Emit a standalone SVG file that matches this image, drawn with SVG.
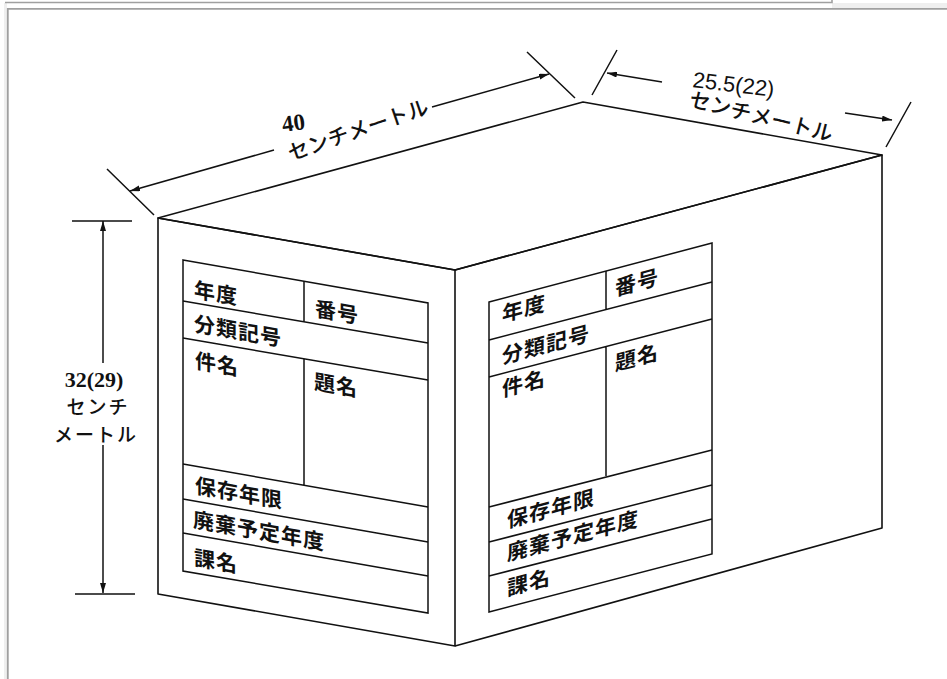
<svg xmlns="http://www.w3.org/2000/svg" width="947" height="679" viewBox="0 0 947 679">
<style>
.ln{fill:none;stroke:#111;stroke-width:1.6;stroke-linejoin:round}
.pl{fill:none;stroke:#111;stroke-width:1.5}
.dim{fill:none;stroke:#111;stroke-width:1.5}
.lbl{font-family:"Noto Sans CJK JP",sans-serif;font-size:21px;font-weight:700;fill:#111;letter-spacing:1px}
.dt{font-family:"Noto Sans CJK JP",sans-serif;font-size:21px;font-weight:500;fill:#111}
.vt{font-family:"Noto Sans CJK JP",sans-serif;font-size:19px;font-weight:500;fill:#111;letter-spacing:2px}
.num{font-family:"Liberation Serif",serif;font-size:23px;font-weight:700;fill:#111}
.nums{font-family:"Liberation Sans",sans-serif;font-size:22px;fill:#111}
</style>
<defs>
<marker id="ah" viewBox="0 0 10 6" refX="10" refY="3" markerWidth="10" markerHeight="6" markerUnits="userSpaceOnUse" orient="auto">
<path d="M0,0 L10,3 L0,6 Z" fill="#111"/>
</marker>
</defs>
<rect width="947" height="679" fill="#fff"/>
<g id="frame">
<rect x="4" y="3" width="3" height="676" fill="#efefef"/>
<rect x="832" y="3" width="115" height="5" fill="#efefef"/>
<path d="M5,2.5 H832 V0" fill="none" stroke="#a0a0a0" stroke-width="1.6"/>
<path d="M947,8.8 H7.8 V679" fill="none" stroke="#a0a0a0" stroke-width="1.8"/>
</g>
<g id="box">
<path class="ln" d="M158,218 L583,102 L882,155 L455,270 Z"/>
<path class="ln" d="M158,218 L455,270 L455,646 L158,594 Z"/>
<path class="ln" d="M455,270 L882,155 L882,528 L455,646"/>
</g>
<g id="left-label">
<path class="pl" d="M183,260 L428,303 L428,613 L183,571 Z"/>
<path class="pl" d="M183,301 L428,343 M183,338 L428,380 M183,464 L428,507 M183,499 L428,542 M183,533 L428,576 M304,281 L304,322 M304,359 L304,485"/>
<text class="lbl" transform="translate(194,297) skewY(9.9)">年度</text>
<text class="lbl" transform="translate(315,316) skewY(9.9)">番号</text>
<text class="lbl" transform="translate(194,331) skewY(9.9)">分類記号</text>
<text class="lbl" transform="translate(195,368) skewY(9.9)">件名</text>
<text class="lbl" transform="translate(314,389) skewY(9.9)">題名</text>
<text class="lbl" transform="translate(195,493) skewY(9.9)">保存年限</text>
<text class="lbl" transform="translate(193,527) skewY(9.9)">廃棄予定年度</text>
<text class="lbl" transform="translate(194,565) skewY(9.9)">課名</text>
</g>
<g id="right-label">
<path class="pl" d="M489,302 L712,243 L712,554 L489,612 Z"/>
<path class="pl" d="M489,340 L712,282 M489,377 L712,319 M489,507 L712,450 M489,542 L712,485 M489,576 L712,519 M606,271 L606,309 M606,346 L606,476"/>
<text class="lbl" transform="translate(502,322) skewY(-15)">年度</text>
<text class="lbl" transform="translate(615,296) skewY(-15)">番号</text>
<text class="lbl" transform="translate(502,364) skewY(-15)">分類記号</text>
<text class="lbl" transform="translate(502,397) skewY(-15)">件名</text>
<text class="lbl" transform="translate(615,371) skewY(-15)">題名</text>
<text class="lbl" transform="translate(507,528) skewY(-15)">保存年限</text>
<text class="lbl" transform="translate(507,561) skewY(-15)">廃棄予定年度</text>
<text class="lbl" transform="translate(507,596) skewY(-15)">課名</text>
</g>
<g id="connectors">
<path class="dim" d="M107,169 L154,215 M527,52 L575,98"/>
<path class="dim" d="M274,150 L130,191" marker-end="url(#ah)"/>
<path class="dim" d="M432,107 L549,74" marker-end="url(#ah)"/>
<path class="dim" d="M617,50 L592,95 M911,102 L886,147"/>
<path class="dim" d="M662,82 L607,73" marker-end="url(#ah)"/>
<path class="dim" d="M845,113 L892,120" marker-end="url(#ah)"/>
<path class="dim" d="M72,221 L132,221 M75,594 L135,594"/>
<path class="dim" d="M103,363 L103,221" marker-end="url(#ah)"/>
<path class="dim" d="M103,445 L103,593" marker-end="url(#ah)"/>
</g>
<g id="dim-labels">
<text class="num" transform="translate(283,132) rotate(-8)">40</text>
<text class="dt" transform="translate(291,161) rotate(-19)">センチメートル</text>
<text class="nums" transform="translate(692,87) rotate(7)">25.5(22)</text>
<text class="dt" transform="translate(688,106) rotate(14)">センチメートル</text>
<text class="num" x="94" y="387" text-anchor="middle" style="font-size:22px">32(29)</text>
<text class="vt" x="98" y="414" text-anchor="middle">センチ</text>
<text class="vt" x="96" y="442" text-anchor="middle">メートル</text>
</g>
</svg>
